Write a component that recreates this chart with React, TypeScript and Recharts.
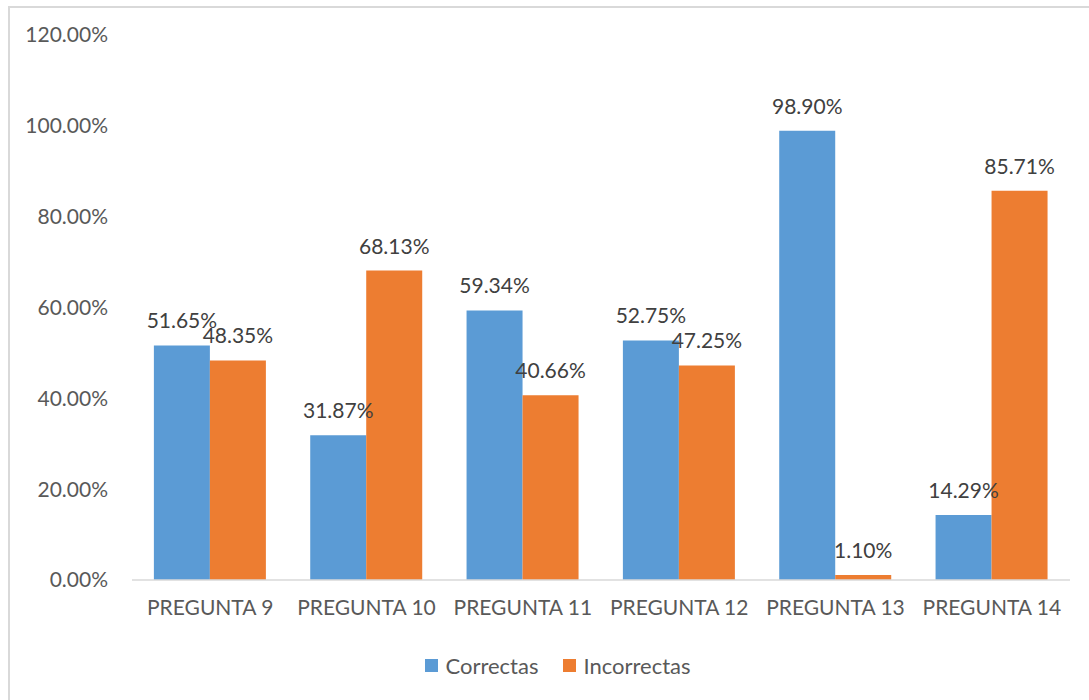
import { BarChart, Bar, XAxis, YAxis, Legend, LabelList } from 'recharts';

const categories = ['PREGUNTA 9', 'PREGUNTA 10', 'PREGUNTA 11', 'PREGUNTA 12', 'PREGUNTA 13', 'PREGUNTA 14'];
const correctas = [51.65, 31.87, 59.34, 52.75, 98.9, 14.29];
const incorrectas = [48.35, 68.13, 40.66, 47.25, 1.1, 85.71];
const yTicks = [0, 20, 40, 60, 80, 100, 120];

const data = categories.map((name, i) => ({ name, correctas: correctas[i], incorrectas: incorrectas[i] }));

const FONT = 'Lato, "Open Sans", sans-serif';
const pct = (v: number) => `${Number(v).toFixed(2)}%`;

function LegendRow({ payload }: { payload?: { value: string; color: string }[] }) {
  return (
    <div style={{ display: 'flex', justifyContent: 'center', alignItems: 'center', gap: 25, paddingLeft: 46 }}>
      {(payload || []).map((p) => (
        <div key={p.value} style={{ display: 'flex', alignItems: 'center', gap: 7 }}>
          <div style={{ width: 13, height: 13, background: p.color }} />
          <span style={{ color: '#595959', fontSize: 22 }}>{p.value}</span>
        </div>
      ))}
    </div>
  );
}

export default function App() {
  return (
    <div style={{ position: 'absolute', left: 0, top: 0, width: 1089, height: 700, background: '#fff', overflow: 'hidden', fontFamily: FONT }}>
      {/* chart frame */}
      <div style={{ position: 'absolute', left: 8, top: 6, width: 1100, height: 720, borderTop: '2px solid #d9d9d9', borderLeft: '2px solid #d9d9d9' }} />
      <BarChart width={1089} height={700} data={data}
        margin={{ top: 35, right: 19, left: 0, bottom: 0 }}
        barGap={0} barCategoryGap="14%">
        <XAxis dataKey="name" height={50} tickLine={false} tickSize={0} tickMargin={20}
          axisLine={{ stroke: '#d9d9d9', strokeWidth: 1.5 }}
          tick={{ fill: '#595959', fontSize: 21, fontFamily: FONT }} />
        <YAxis width={132} domain={[0, 120]} ticks={yTicks} tickFormatter={pct}
          axisLine={false} tickLine={false} tickSize={0} tickMargin={24}
          tick={{ fill: '#595959', fontSize: 21, fontFamily: FONT }} />
        <Legend verticalAlign="bottom" height={48} content={<LegendRow />}
          wrapperStyle={{ paddingTop: 22, fontFamily: FONT }} />
        <Bar dataKey="correctas" name="Correctas" fill="#5B9BD5" isAnimationActive={false}>
          <LabelList dataKey="correctas" position="top" offset={17} formatter={pct}
            style={{ fill: '#404040', fontSize: 21, fontFamily: FONT }} />
        </Bar>
        <Bar dataKey="incorrectas" name="Incorrectas" fill="#ED7D31" isAnimationActive={false}>
          <LabelList dataKey="incorrectas" position="top" offset={17} formatter={pct}
            style={{ fill: '#404040', fontSize: 21, fontFamily: FONT }} />
        </Bar>
      </BarChart>
    </div>
  );
}
